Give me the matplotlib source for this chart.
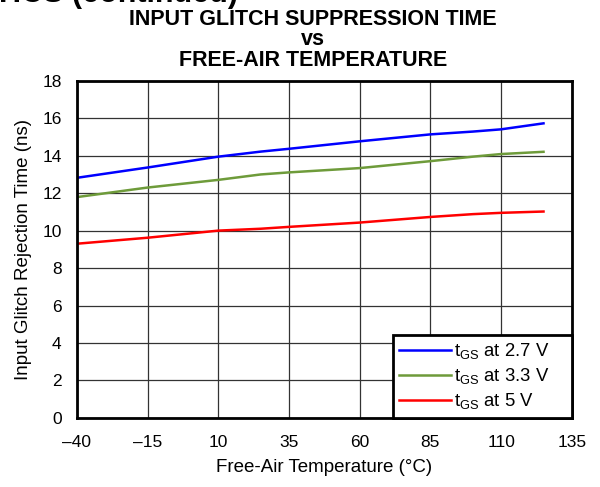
import matplotlib
matplotlib.use("Agg")
import matplotlib.pyplot as plt

plt.rcParams['font.family'] = ['Liberation Sans', 'DejaVu Sans']

# temperature (°C) and glitch rejection time (ns)
temp = [-40, -15, 10, 25, 35, 60, 85, 100, 110, 125]
t_27 = [12.82, 13.37, 13.95, 14.22, 14.37, 14.77, 15.14, 15.29, 15.41, 15.73]
t_33 = [11.79, 12.30, 12.71, 13.00, 13.11, 13.34, 13.71, 13.95, 14.09, 14.21]
t_50 = [9.30, 9.62, 10.00, 10.10, 10.20, 10.43, 10.73, 10.88, 10.95, 11.02]

labels = ['t$_{\\mathregular{GS}}$ at 2.7 V',
          't$_{\\mathregular{GS}}$ at 3.3 V',
          't$_{\\mathregular{GS}}$ at 5 V']
colors = ['#0000FF', '#6E9B3A', '#FF0000']

xticks = [-40, -15, 10, 35, 60, 85, 110, 135]
xtick_labels = ['\u201340', '\u201315', '10', '35', '60', '85', '110', '135']
yticks = [0, 2, 4, 6, 8, 10, 12, 14, 16, 18]

fig = plt.figure(figsize=(6, 4.87), dpi=100)
ax = fig.add_axes([0.128, 0.142, 0.825, 0.692])

lines = []
for ys, c in zip([t_27, t_33, t_50], colors):
    lines += ax.plot(temp, ys, color=c, lw=1.8)

ax.set_xlim(-40, 135)
ax.set_ylim(0, 18)
ax.set_xticks(xticks)
ax.set_xticklabels(xtick_labels)
ax.set_yticks(yticks)
ax.tick_params(length=0, labelsize=12.5)
ax.tick_params(axis='x', pad=12)
ax.tick_params(axis='y', pad=11)
ax.grid(True, color='#333333', lw=0.9)
ax.set_axisbelow(True)
for s in ax.spines.values():
    s.set_linewidth(2)
    s.set_color('black')

ax.set_xlabel('Free-Air Temperature (\u00b0C)', fontsize=13.5, labelpad=7)
ax.set_ylabel('Input Glitch Rejection Time (ns)', fontsize=13.5, labelpad=7)

# trailing spaces leave the extra room on the right of the legend box
leg = ax.legend(lines, [l + '    ' for l in labels], loc='lower right',
                fontsize=13.3, fancybox=False, framealpha=1,
                edgecolor='black', borderaxespad=0, handlelength=2.8,
                handletextpad=0.2, labelspacing=0.28, borderpad=0.35)
leg.get_frame().set_linewidth(2)

fig.text(0.522, 1 - 66 / 487, 'INPUT GLITCH SUPPRESSION TIME\nvs\nFREE-AIR TEMPERATURE',
         ha='center', va='baseline', fontsize=15.5, fontweight='bold', linespacing=0.98)
fig.text(238 / 600, 1 - 2 / 487, 'TYPICAL CHARACTERISTICS (continued)',
         ha='right', va='baseline', fontsize=22, fontweight='bold')

fig.savefig('out.png', dpi=100)
